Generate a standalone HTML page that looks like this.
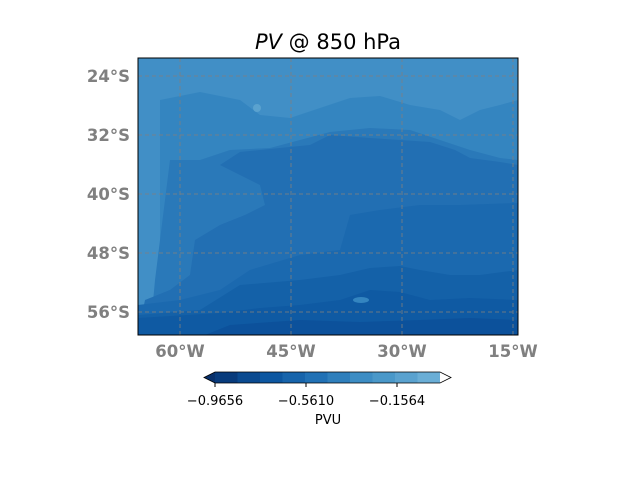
<!DOCTYPE html>
<html><head><meta charset="utf-8"><style>
body{margin:0;background:#fff;font-family:"DejaVu Sans","Liberation Sans",sans-serif}
</style></head><body>
<svg width="640" height="480" viewBox="0 0 640 480" xmlns="http://www.w3.org/2000/svg" font-family="DejaVu Sans, Liberation Sans, sans-serif">
<defs><clipPath id="mc"><rect x="138" y="58" width="380" height="277"/></clipPath></defs>
<text x="328" y="49" text-anchor="middle" font-size="21"><tspan font-style="italic">PV</tspan> @ 850 hPa</text>
<g clip-path="url(#mc)">
<rect x="138" y="58" width="380" height="277" fill="#418fc6"/>
<path d="M160,335 L160,100 L200,92 L240,100 L260,115 L290,118 L320,108 L350,98 L380,96 L410,105 L440,110 L460,120 L480,110 L500,105 L518,100 L518,335 Z" fill="#3485c0"/>
<path d="M150,335 L155,280 L160,240 L165,200 L170,160 L200,160 L230,150 L270,148 L300,140 L330,132 L370,128 L410,130 L440,140 L470,150 L500,158 L518,160 L518,335 Z" fill="#2a79b9"/>
<path d="M220,165 L240,152 L280,148 L310,145 L330,135 L370,138 L400,140 L430,142 L455,150 L470,158 L500,162 L518,165 L518,335 L138,335 L145,300 L170,290 L190,275 L195,240 L220,225 L245,215 L265,205 L260,185 Z" fill="#226fb3"/>
<path d="M250,270 L300,255 L340,250 L350,215 L380,210 L420,205 L460,205 L518,203 L518,335 L138,335 L138,305 L180,300 L220,290 Z" fill="#1b69af"/>
<path d="M240,285 L300,280 L340,275 L370,268 L400,266 L420,270 L450,275 L480,275 L518,270 L518,335 L138,335 L138,315 L200,310 Z" fill="#1461a8"/>
<path d="M138,318 L220,313 L260,308 L300,305 L340,300 L370,290 L400,292 L430,300 L470,298 L518,300 L518,335 L138,335 Z" fill="#0f5aa3"/>
<path d="M205,335 L230,325 L300,320 L360,322 L420,320 L470,318 L518,320 L518,335 Z" fill="#0c519b"/>
<ellipse cx="257" cy="108" rx="4" ry="4" fill="#5aa2cf"/>
<ellipse cx="361" cy="300" rx="8" ry="3" fill="#3485c0"/>
<g id="grid" stroke="#808080" stroke-width="1" stroke-dasharray="4,3" fill="none" opacity="0.8"></g>
</g>
<rect x="138" y="58" width="380" height="277" fill="none" stroke="#000" stroke-width="1"/>
<g id="latlabels" font-size="16.5" font-weight="bold" fill="#808080" text-anchor="end"></g>
<g id="lonlabels" font-size="16.5" font-weight="bold" fill="#808080" text-anchor="middle"></g>
<g id="cbar"></g>
<text x="328" y="424" text-anchor="middle" font-size="13">PVU</text>
</svg>
<script>
const latTicks=[24,32,40,48,56];
const lonTicks=[60,45,30,15];
const cbarColors=["#08306b","#083b7c","#0a4a90","#0d57a1","#1764ab","#2171b5","#2f7fbc","#3d8dc4","#4a98c9","#5aa2cf","#6aaed6","#ffffff"];
const cbarTickVals=[-0.9656,-0.5610,-0.1564];
const cbarTickLabels=["\u22120.9656","\u22120.5610","\u22120.1564"];
const NS="http://www.w3.org/2000/svg";
function yLat(l){return 76+(l-24)*(59/8);}
function xLon(l){return 180+(60-l)*(111/15);}
const cbMin=-0.9656, cbStep=0.10004, cbX0=215, segW=22.5;
function xCb(v){return cbX0+(v-cbMin)/cbStep*segW;}
const grid=document.getElementById('grid');
latTicks.forEach(l=>{const e=document.createElementNS(NS,'line');


e.setAttribute('x1',138);e.setAttribute('x2',518);e.setAttribute('y1',yLat(l));e.setAttribute('y2',yLat(l));grid.appendChild(e);
const t=document.createElementNS(NS,'text');


t.setAttribute('x',130);t.setAttribute('y',yLat(l)+6);t.textContent=l+'°S';document.getElementById('latlabels').appendChild(t);});
lonTicks.forEach(l=>{const e=document.createElementNS(NS,'line');


e.setAttribute('x1',xLon(l));e.setAttribute('x2',xLon(l));e.setAttribute('y1',58);e.setAttribute('y2',335);grid.appendChild(e);
const t=document.createElementNS(NS,'text');


t.setAttribute('x',xLon(l));t.setAttribute('y',357);t.textContent=l+'°W';document.getElementById('lonlabels').appendChild(t);});
const cb=document.getElementById('cbar');
const y0=372,h=11;
const n=cbarColors.length-2;
const l=document.createElementNS(NS,'polygon');


l.setAttribute('points',`${cbX0},${y0} ${cbX0},${y0+h} ${cbX0-11},${y0+h/2}`);l.setAttribute('fill',cbarColors[0]);cb.appendChild(l);
for(let i=0;i<n;i++){const r=document.createElementNS(NS,'rect');


r.setAttribute('x',cbX0+i*segW);r.setAttribute('y',y0);r.setAttribute('width',segW+0.5);r.setAttribute('height',h);r.setAttribute('fill',cbarColors[i+1]);cb.appendChild(r);}
const xe=cbX0+n*segW;
const rr=document.createElementNS(NS,'polygon');


rr.setAttribute('points',`${xe},${y0} ${xe},${y0+h} ${xe+11},${y0+h/2}`);rr.setAttribute('fill',cbarColors[n+1]);cb.appendChild(rr);
const o=document.createElementNS(NS,'polygon');


o.setAttribute('points',`${cbX0-11},${y0+h/2} ${cbX0},${y0} ${xe},${y0} ${xe+11},${y0+h/2} ${xe},${y0+h} ${cbX0},${y0+h}`);o.setAttribute('fill','none');o.setAttribute('stroke','#000');o.setAttribute('stroke-width','0.8');cb.appendChild(o);
cbarTickVals.forEach((v,i)=>{const x=xCb(v);
const t=document.createElementNS(NS,'line');


t.setAttribute('x1',x);t.setAttribute('x2',x);t.setAttribute('y1',y0+h);t.setAttribute('y2',y0+h+4);t.setAttribute('stroke','#000');cb.appendChild(t);
const tx=document.createElementNS(NS,'text');


tx.setAttribute('x',x);tx.setAttribute('y',405);tx.setAttribute('text-anchor','middle');tx.setAttribute('font-size','13');tx.textContent=cbarTickLabels[i];cb.appendChild(tx);});
</script>
</body></html>
